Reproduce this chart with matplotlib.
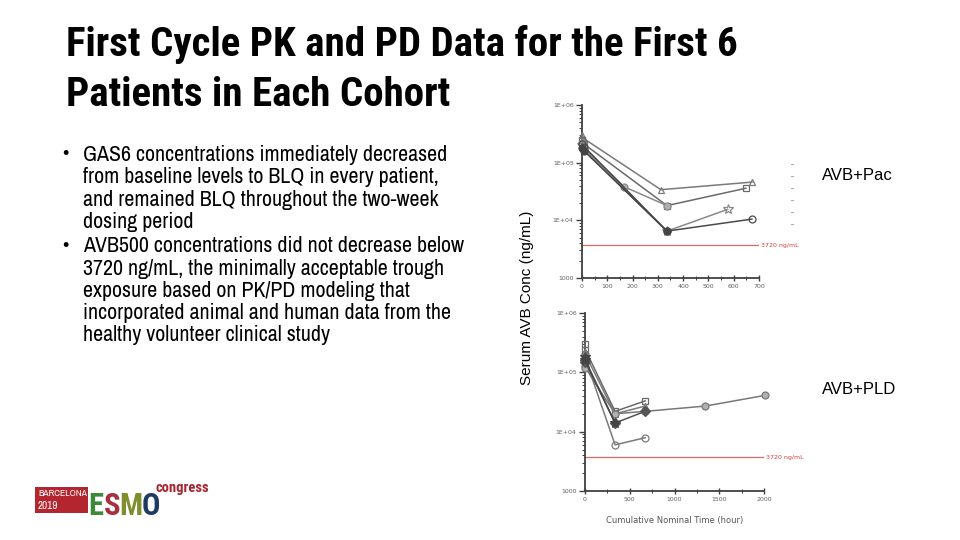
import matplotlib
matplotlib.use("Agg")
import matplotlib.pyplot as plt
from matplotlib.lines import Line2D
from matplotlib.patches import Rectangle
from matplotlib.ticker import LogLocator, NullFormatter, MultipleLocator

NARROW = ['Archivo Narrow', 'PT Sans Narrow', 'Liberation Sans', 'DejaVu Sans']
NARROW_BOLD = ['Roboto Condensed', 'PT Sans Narrow', 'Liberation Sans', 'DejaVu Sans']
ARIAL = ['Liberation Sans', 'DejaVu Sans']
plt.rcParams['font.family'] = NARROW

title_lines = ["First Cycle PK and PD Data for the First 6", "Patients in Each Cohort"]
bullets = [
    ["GAS6 concentrations immediately decreased",
     "from baseline levels to BLQ in every patient,",
     "and remained BLQ throughout the two-week",
     "dosing period"],
    ["AVB500 concentrations did not decrease below",
     "3720 ng/mL, the minimally acceptable trough",
     "exposure based on PK/PD modeling that",
     "incorporated animal and human data from the",
     "healthy volunteer clinical study"],
]

threshold = 3720
ytick_vals = [1000, 1e4, 1e5, 1e6]
ytick_labels = ["1000", "1E+04", "1E+05", "1E+06"]

# AVB+Pac cohort (hours, ng/mL)
pac_times = [[0, 8, 312, 672], [0, 8, 336, 648], [0, 8, 168, 336],
             [0, 8, 336, 576], [0, 8, 336, 672], [0, 8, 336]]
pac_conc = [[3.0e5, 2.6e5, 3.4e4, 4.6e4], [2.5e5, 2.1e5, 1.8e4, 3.6e4],
            [2.2e5, 1.8e5, 3.8e4, 1.8e4], [2.0e5, 1.7e5, 6.5e3, 1.55e4],
            [2.1e5, 1.9e5, 6.5e3, 1.05e4], [1.8e5, 1.6e5, 6.5e3]]

# AVB+PLD cohort
pld_times = [[0, 4, 336, 672], [0, 4, 336, 672], [0, 4, 336, 672],
             [0, 4, 336, 672, 1344, 2016], [0, 4, 336, 672], [0, 4, 336]]
pld_conc = [[2.0e5, 1.7e5, 6.0e3, 7.9e3], [3.0e5, 2.4e5, 2.2e4, 3.3e4],
            [2.2e5, 2.0e5, 2.0e4, 2.7e4], [1.3e5, 1.2e5, 2.0e4, 2.2e4, 2.7e4, 4.1e4],
            [1.6e5, 1.5e5, 1.4e4, 2.2e4], [1.8e5, 1.6e5, 1.4e4]]

# marker, face, edge/line colour
pac_styles = [('^', 'none', '#7a7a7a'), ('s', 'none', '#6a6a6a'), ('o', '#b0b0b0', '#8a8a8a'),
              ('*', 'none', '#8a8a8a'), ('o', 'none', '#4a4a4a'), ('o', '#444444', '#444444')]
pld_styles = [('o', 'none', '#7a7a7a'), ('s', 'none', '#6a6a6a'), ('^', 'none', '#7a7a7a'),
              ('o', '#b0b0b0', '#777777'), ('D', '#555555', '#555555'), ('*', '#444444', '#444444')]

fig = plt.figure(figsize=(9.6, 5.4), dpi=100)

# title
for i, t in enumerate(title_lines):
    fig.text(66 / 960, 1 - (44 + 51 * i) / 540, t, fontsize=29.5, fontweight='bold',
             va='center', ha='left', color='black', family=NARROW_BOLD)

# bullets
y = 155
for block in bullets:
    fig.text(62 / 960, 1 - y / 540, u"\u2022", fontsize=13, va='center', ha='left',
             family=ARIAL)
    for line in block:
        fig.text(83 / 960, 1 - y / 540, line, fontsize=15.8, va='center', ha='left')
        y += 22.3
    y += 2


def pk_panel(rect, times, concs, styles, xmax, xmajor, xminor):
    ax = fig.add_axes(rect)
    ax.set_yscale('log')
    for (t, c), (m, fc, col) in zip(zip(times, concs), styles):
        ax.plot(t, c, color=col, lw=1.1, marker=m, ms=5 if m != '*' else 7,
                mfc=fc, mec=col, mew=0.9, clip_on=False, zorder=3)
    ax.axhline(threshold, xmin=0, xmax=1, color='#e06868', lw=0.9, zorder=2)
    ax.text(1.01, threshold, "3720 ng/mL", transform=ax.get_yaxis_transform(),
            color='#d83a3a', fontsize=4.5, va='center', ha='left', family='DejaVu Sans')
    ax.set_xlim(0, xmax)
    ax.set_ylim(1000, 1e6)
    ax.set_yticks(ytick_vals)
    ax.set_yticklabels(ytick_labels)
    ax.yaxis.set_minor_locator(LogLocator(base=10, subs=range(2, 10)))
    ax.yaxis.set_minor_formatter(NullFormatter())
    ax.xaxis.set_major_locator(MultipleLocator(xmajor))
    ax.xaxis.set_minor_locator(MultipleLocator(xminor))
    for s in ['top', 'right']:
        ax.spines[s].set_visible(False)
    for s in ['left', 'bottom']:
        ax.spines[s].set_color('#404040')
        ax.spines[s].set_linewidth(1.3)
    ax.tick_params(axis='both', which='major', labelsize=4.5, labelcolor='#606060',
                   color='#404040', width=1, length=4, pad=2)
    ax.tick_params(axis='both', which='minor', color='#404040', width=0.7, length=2.5)
    ax.tick_params(axis='x', which='both', direction='inout')
    for lbl in ax.get_xticklabels() + ax.get_yticklabels():
        lbl.set_family('DejaVu Sans')
    ax.patch.set_alpha(0)
    return ax


ax1 = pk_panel([582 / 960, 1 - 278 / 540, 177 / 960, 173 / 540],
               pac_times, pac_conc, pac_styles, 700, 100, 50)
ax2 = pk_panel([585 / 960, 1 - 491 / 540, 179 / 960, 178 / 540],
               pld_times, pld_conc, pld_styles, 2000, 500, 250)

fig.text(675 / 960, 1 - 521 / 540, "Cumulative Nominal Time (hour)", fontsize=6,
         color='#555555', ha='center', va='center', family='DejaVu Sans')
fig.text(527 / 960, 1 - 298 / 540, "Serum AVB Conc (ng/mL)", fontsize=11,
         rotation=90, ha='center', va='center', family=ARIAL)

fig.text(822 / 960, 1 - 175 / 540, "AVB+Pac", fontsize=12, ha='left', va='center',
         family=ARIAL)
fig.text(822 / 960, 1 - 390 / 540, "AVB+PLD", fontsize=12, ha='left', va='center',
         family=ARIAL)

# faint legend remnants next to top panel
for k in range(6):
    fig.add_artist(Line2D([791 / 960, 793 / 960], [1 - (164 + 12 * k) / 540] * 2,
                          color='#b0b0b0', lw=0.8))

# ESMO logo
fig.add_artist(Rectangle((35 / 960, 1 - 513 / 540), 53 / 960, 26 / 540,
                         facecolor='#b32630', edgecolor='none'))
fig.text(38 / 960, 1 - 494 / 540, "BARCELONA", fontsize=7, color='white',
         ha='left', va='center')
fig.text(38 / 960, 1 - 506 / 540, "2019", fontsize=8, color='white',
         ha='left', va='center')
esmo = [("E", '#3d8a3a', 88), ("S", '#a8303e', 103.5), ("M", '#7f8f2e', 119), ("O", '#1e3a63', 141.5)]
for letter, col, xpos in esmo:
    fig.text(xpos / 960, 1 - 515 / 540, letter, fontsize=22, fontweight='bold', color=col,
             ha='left', va='baseline', family=NARROW_BOLD)
fig.text(156 / 960, 1 - 488 / 540, "congress", fontsize=10.5, fontweight='bold',
         color='#a8232e', ha='left', va='center', family=NARROW_BOLD)

fig.savefig("out.png", dpi=100)
